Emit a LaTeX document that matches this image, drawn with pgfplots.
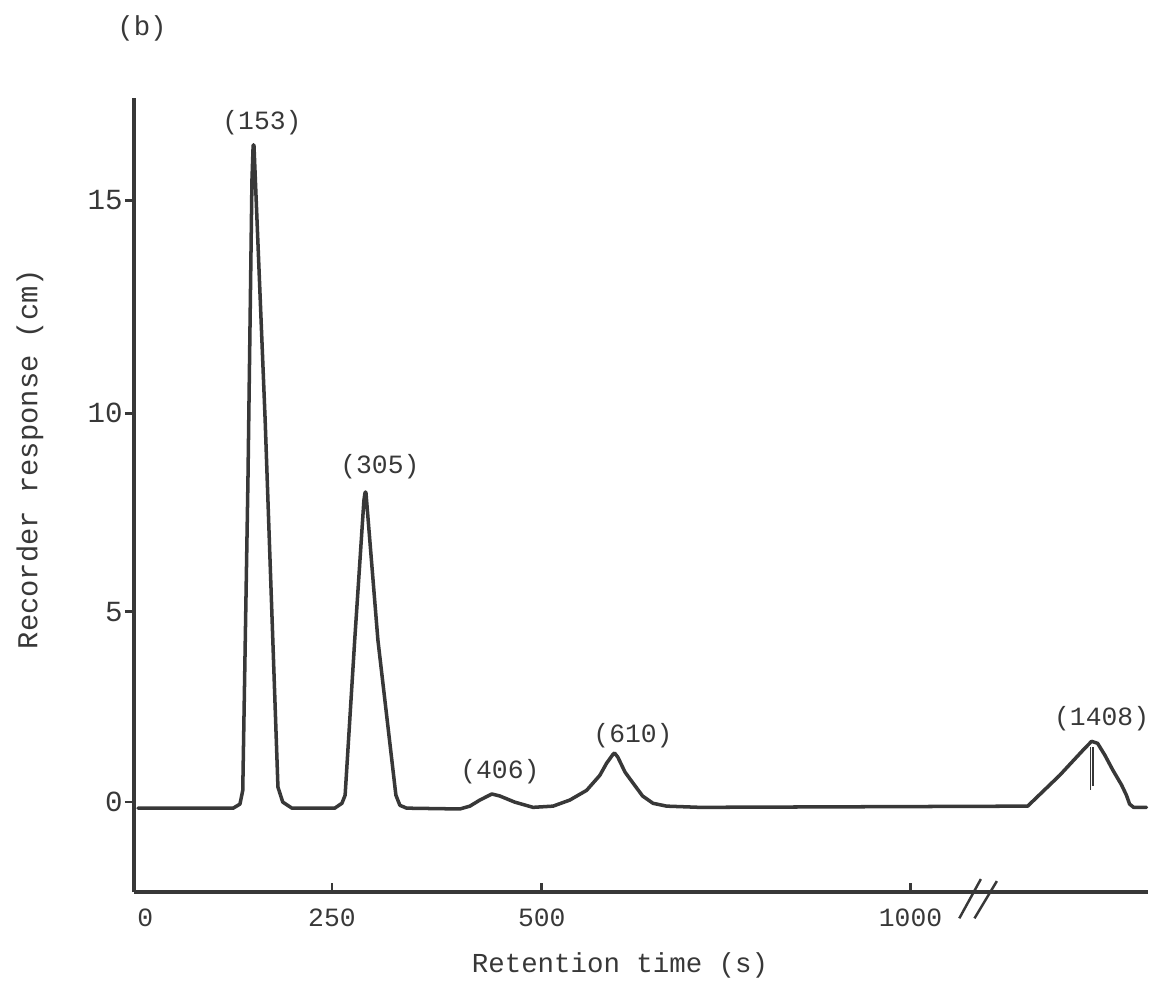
\documentclass[border=0pt]{standalone}
\usepackage{fontspec}
\setmainfont{Liberation Mono}
\usepackage{pgfplots}
\usepackage{pgfplotstable}
\pgfplotsset{compat=1.18}

% Recorder trace: chart position (s scale of the drawn axis) vs response (cm)
\pgfplotstableread{
x y
5 0
124 0
132.5 0.1
136 0.44
142.5 8.1
147.5 15.5
149 16.37
150 16.37
164 9.58
180 0.52
186 0.15
197.5 0
251 0
260 0.12
264 0.32
276 4.15
287.5 7.6
289 7.8
290 7.8
305 4.15
327.5 0.32
332.5 0.07
341 0
407.5 -0.02
420 0.05
432.5 0.2
447.5 0.35
457.5 0.3
476 0.15
499 0.02
524 0.05
545 0.2
566 0.44
582.5 0.81
591 1.11
599 1.33
601 1.36
605 1.26
614 0.89
624 0.62
636 0.3
649 0.12
666 0.05
707.5 0.02
1117.5 0.05
1157.5 0.81
1189 1.48
1197.5 1.65
1205 1.6
1214 1.31
1224 0.94
1235 0.57
1241 0.32
1245 0.1
1250 0.02
1266 0.02
}\trace

\definecolor{ink}{gray}{0.22}

\begin{document}
\begin{tikzpicture}
\begin{axis}[
  at={(0,0)}, anchor=south west,
  scale only axis,
  width=10.14cm, height=7.94cm,
  xmin=0, xmax=1268, ymin=-2.07, ymax=17.53,
  axis x line*=bottom, axis y line*=left,
  axis line style={ink, line width=0.9pt},
  clip=false,
  font=\fontsize{7.5}{9}\selectfont,
  /pgf/number format/assume math mode=true,
  xtick={247.5,510,971},
  xticklabels={250,500,1000},
  extra x ticks={14},
  extra x tick labels={0},
  extra x tick style={tick style={draw=none}},
  ytick={0.15,4.85,9.75,15},
  yticklabels={0,5,10,15},
  tick align=outside,
  major tick length=0.09cm,
  tick style={ink, line width=0.8pt},
  xtick style={yshift=0.09cm},
  xticklabel style={text=ink, yshift=0.05cm},
  yticklabel style={text=ink, xshift=0.1cm, font=\fontsize{8.3}{9}\selectfont},
]
\addplot[ink, line width=1pt, line join=round, line cap=round] table[x=x, y=y] {\trace};

% marker line at the last peak
\draw[ink, line width=0.5pt] (axis cs:1196,1.5) -- (axis cs:1196,0.44);
\draw[ink, line width=0.5pt] (axis cs:1199,1.5) -- (axis cs:1199,0.55);

% axis break
\draw[ink, line width=0.7pt] (axis cs:1032,-2.72) -- (axis cs:1059,-1.75);
\draw[ink, line width=0.7pt] (axis cs:1051,-2.72) -- (axis cs:1079,-1.80);

% retention times of the peaks
\node[ink, font=\fontsize{7.5}{9}\selectfont] at (axis cs:160,16.91) {(153)};
\node[ink, font=\fontsize{7.5}{9}\selectfont] at (axis cs:307.5,8.42) {(305)};
\node[ink, font=\fontsize{7.5}{9}\selectfont] at (axis cs:457.5,0.89) {(406)};
\node[ink, font=\fontsize{7.5}{9}\selectfont] at (axis cs:624,1.80) {(610)};
\node[ink, font=\fontsize{7.5}{9}\selectfont] at (axis cs:1210,2.22) {(1408)};
\end{axis}

\node[ink, font=\fontsize{7.8}{9}\selectfont] at (4.86,-0.73) {Retention time (s)};
\node[ink, rotate=90, font=\fontsize{8.2}{9}\selectfont] at (-1.04,4.33) {Recorder response (cm)};
\node[ink, font=\fontsize{7.8}{9}\selectfont] at (0.08,8.64) {(b)};

\pgfresetboundingbox
\useasboundingbox (-1.34,-0.91) rectangle (10.24,8.92);
\end{tikzpicture}
\end{document}
